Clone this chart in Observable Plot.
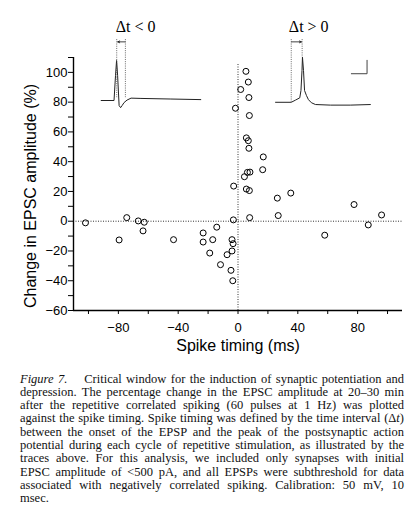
<!DOCTYPE html>
<html><head><meta charset="utf-8">
<script src="https://cdn.jsdelivr.net/npm/d3@7"></script>
<script src="https://cdn.jsdelivr.net/npm/@observablehq/plot@0.6"></script>
<style>
body{margin:0;background:#fff;}
#chart{width:418px;height:362px;}
#caption{margin:10.5px 0 0 20px;width:384px;font-family:"Liberation Serif","Times New Roman",serif;font-size:12.5px;line-height:13.33px;color:#111;}
#caption div{text-align:justify;text-align-last:justify;}
#caption div.last{text-align-last:left;}
</style></head><body>
<div id="chart"></div>
<div id="caption"></div>
<script>
// Scatter data: spike timing (ms) vs change in EPSC amplitude (%)
const timingMs = [-102,-79.5,-74.4,-66.7,-62.7,-63.5,-43.1,-23.3,-23.3,-16.9,-14.2,-18.9,-11.7,-7.3,-4,-3.3,-4,-4.7,-3.5,-3.1,-2.9,5.6,6.9,7.3,16.9,6.3,8,4.3,16.5,5.6,7.6,26.3,35.3,7.8,26.9,58,77.6,87.1,96,5.3,6.9,1.8,7.3,-1.7,7.6];
const epscChange = [-1.1,-12.6,2.4,0.2,-0.7,-6.5,-12.4,-7.9,-14,-12.4,-4,-21.4,-29.2,-22.5,-12.4,-15.1,-20,-33,-40,0.9,23.6,56,54.1,49,43.2,32.8,33,29.9,34.6,21.6,20.6,15.5,18.9,2.4,3.8,-9.4,11.2,-2.5,4.2,100.7,93.5,88.5,83.1,75.9,71];

// Ticks
const xTickLabels = [-80,-40,0,40,80];
const xMinorTicks = [-100,-60,-20,20,60,100];
const yTickLabels = [-60,-40,-20,0,20,40,60,80,100];
const yMinorTicks = [-50,-30,-10,10,30,50,70,90,110];

// Inset example traces (drawn in plot coordinates)
const leftTraceX = [-91.5,-82.9,-81.9,-81.2,-80.5,-79.5,-78.5,-77.5,-76.2,-74.2,-71.5,-64.9,-44.9,-24.9];
const leftTraceY = [81.1,81.1,97.9,108.0,97.9,77.7,76.3,77.7,79.7,81.4,82.7,82.5,82.1,81.7];
const rightTraceX = [25.1,35.6,38.5,41.3,42.1,42.8,43.1,43.8,44.5,45.8,47.1,49.1,51.8,61.8,75.1,88.5];
const rightTraceY = [79.9,79.9,81.4,82.9,87.8,101.3,110.2,101.3,87.8,84.4,81.7,79.6,78.4,78.0,78.0,78.4];
const markerX = [-81.1,-75.3,35.6,42.9];
const markerTop = [122,122,122,122];
const markerBottom = [83,83,80,110];
const arrowFrom = [-75.5,35.8];
const arrowTo = [-80.4,42.4];
const arrowLevel = [120.5,120.5];
const insetLabels = ["\u0394t < 0","\u0394t > 0"];
const insetLabelX = [-68.4,47.3];
const insetLabelY = [130.5,130.5];
const scaleBarX = [75.8,86.3,86.3];
const scaleBarY = [99.1,99.1,108.1];

const captionLines = [
  "<i>Figure 7.</i>&emsp; Critical window for the induction of synaptic potentiation and",
  "depression. The percentage change in the EPSC amplitude at 20\u201330 min",
  "after the repetitive correlated spiking (60 pulses at 1 Hz) was plotted",
  "against the spike timing. Spike timing was defined by the time interval (\u0394<i>t</i>)",
  "between the onset of the EPSP and the peak of the postsynaptic action",
  "potential during each cycle of repetitive stimulation, as illustrated by the",
  "traces above. For this analysis, we included only synapses with initial",
  "EPSC amplitude of &lt;500 pA, and all EPSPs were subthreshold for data",
  "associated with negatively correlated spiking. Calibration: 50 mV, 10",
  "msec."
];

const pts = timingMs.map((t,i)=>({t, v: epscChange[i]}));
const lt = leftTraceX.map((x,i)=>({x, y: leftTraceY[i]}));
const rt = rightTraceX.map((x,i)=>({x, y: rightTraceY[i]}));
const mk = markerX.map((x,i)=>({x, y1: markerTop[i], y2: markerBottom[i]}));
const ar = arrowFrom.map((x1,i)=>({x1, x2: arrowTo[i], y: arrowLevel[i]}));
const lb = insetLabels.map((s,i)=>({s, x: insetLabelX[i], y: insetLabelY[i]}));
const sb = scaleBarX.map((x,i)=>({x, y: scaleBarY[i]}));

const sans = "'Liberation Sans', Arial, sans-serif";
const serif = "'Liberation Serif', 'Times New Roman', serif";

const chart = Plot.plot({
  width: 418, height: 362,
  marginLeft: 73, marginRight: 16, marginTop: 57, marginBottom: 52,
  x: {domain: [-110, 110]},
  y: {domain: [-60, 110]},
  style: {fontFamily: sans, fontSize: "13px", color: "#000", background: "transparent", overflow: "visible"},
  marks: [
    Plot.ruleY([0], {stroke: "#333", strokeWidth: 1, strokeDasharray: "1,1.5"}),
    Plot.ruleX([0], {y1: -60, y2: 106, stroke: "#333", strokeWidth: 1, strokeDasharray: "1,1.5"}),
    Plot.axisX({ticks: xMinorTicks, tickFormat: () => "", tickSize: 4, label: null}),
    Plot.axisX({ticks: xTickLabels, tickSize: 4, tickPadding: 8, label: null, fontSize: 13}),
    Plot.axisY({ticks: yMinorTicks, tickFormat: () => "", tickSize: 5, label: null}),
    Plot.axisY({ticks: yTickLabels, tickSize: 5, tickPadding: 1, label: null, fontSize: 13}),
    Plot.ruleX([-110], {stroke: "#000", strokeWidth: 1.4}),
    Plot.ruleY([-60], {stroke: "#000", strokeWidth: 1.4}),
    Plot.dot(pts, {x: "t", y: "v", r: 3, stroke: "#000", strokeWidth: 1, fill: "none"}),
    Plot.line(lt, {x: "x", y: "y", stroke: "#222", strokeWidth: 1, curve: "linear"}),
    Plot.line(rt, {x: "x", y: "y", stroke: "#222", strokeWidth: 1, curve: "linear"}),
    Plot.ruleX(mk, {x: "x", y1: "y1", y2: "y2", stroke: "#444", strokeWidth: 0.8, strokeDasharray: "1,1.2"}),
    Plot.arrow(ar, {x1: "x1", x2: "x2", y1: "y", y2: "y", stroke: "#111", strokeWidth: 0.8, headLength: 4, headAngle: 50}),
    Plot.text(lb, {x: "x", y: "y", text: "s", fontFamily: serif, fontSize: 16, fill: "#000"}),
    Plot.line(sb, {x: "x", y: "y", stroke: "#444", strokeWidth: 1}),
    Plot.text(["Spike timing (ms)"], {frameAnchor: "bottom", lineAnchor: "middle", textAnchor: "middle", dy: 35, fontSize: 16, fontFamily: sans, fill: "#000"}),
    Plot.text(["Change in EPSC amplitude (%)"], {frameAnchor: "left", textAnchor: "middle", lineAnchor: "middle", rotate: -90, dx: -43, dy: 12, fontSize: 16, fontFamily: sans, fill: "#000"})
  ]
});
document.getElementById("chart").appendChild(chart);

const cap = document.getElementById("caption");
captionLines.forEach((s,i)=>{
  const d = document.createElement("div");
  d.innerHTML = s;
  if (i === captionLines.length - 1) d.className = "last";
  cap.appendChild(d);
});
</script>
</body></html>
